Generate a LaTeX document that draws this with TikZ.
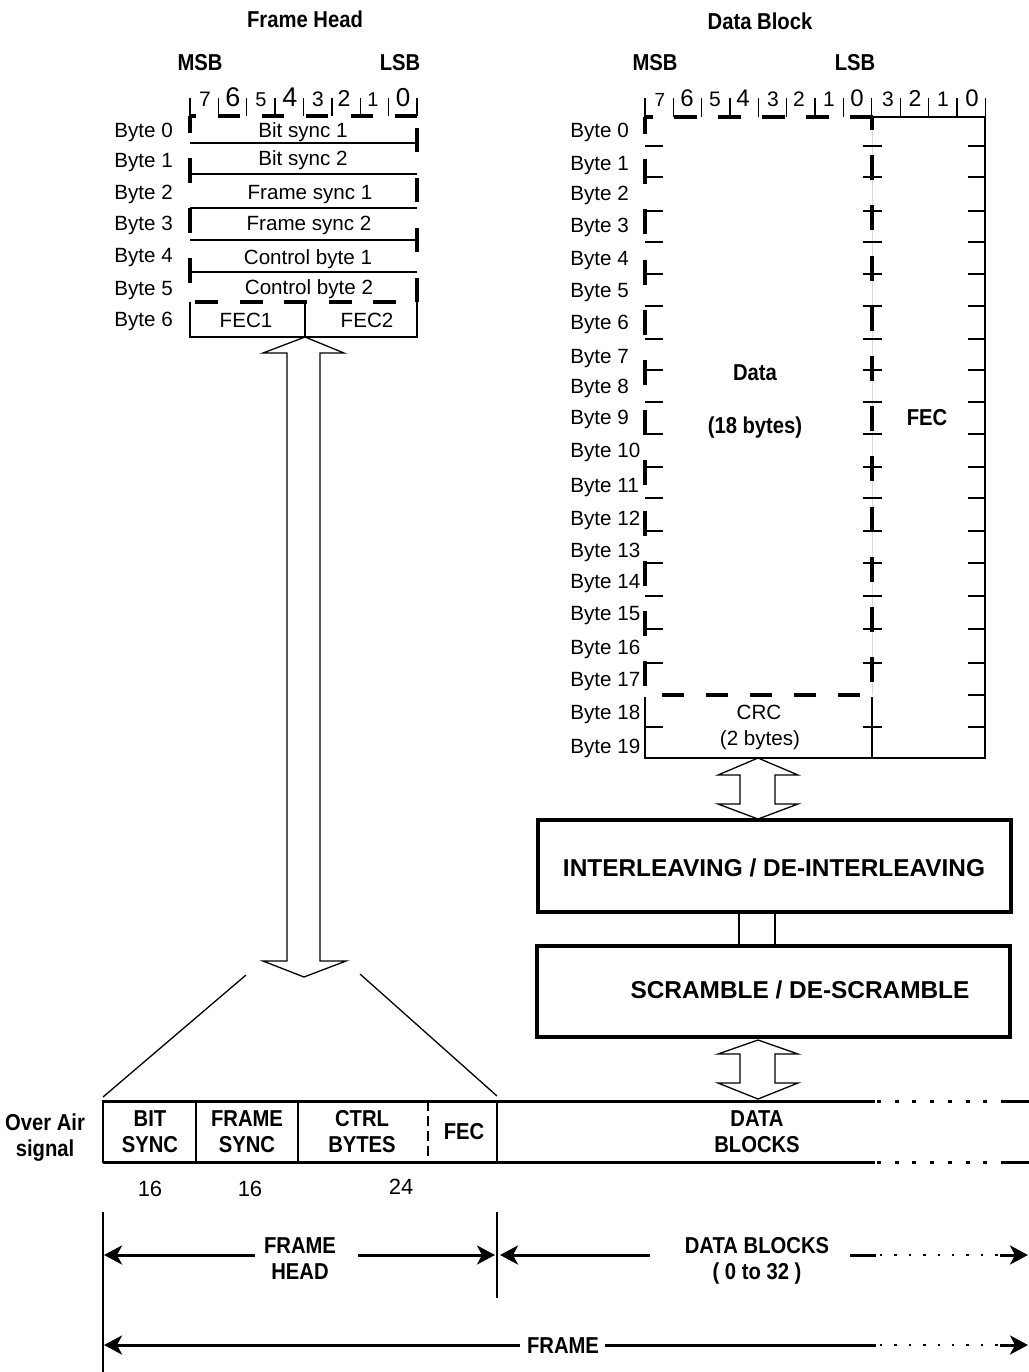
\documentclass[tikz,border=0pt]{standalone}
\usepackage{fontspec}
\setmainfont{Liberation Sans}
\newfontfamily\nbfont[FakeStretch=0.88]{Liberation Sans}
\usetikzlibrary{arrows.meta}
\tikzset{
  thinl/.style={line width=0.65pt},
  thickdash/.style={line width=2.4pt},
  lbl/.style={inner sep=0pt, anchor=base, font=\fontsize{10.3}{12}\selectfont},
  lblw/.style={lbl, anchor=base west},
  nbold/.style={inner sep=0pt, anchor=base, font=\nbfont\bfseries\fontsize{11.5}{13}\selectfont},
  boxlbl/.style={inner sep=0pt, anchor=base, font=\bfseries\fontsize{12.2}{14}\selectfont},
  procbox/.style={draw, line width=2pt, inner sep=0pt},
  hollow/.style={thinl, fill=white, line join=miter},
  sigline/.style={line width=1.5pt},
  dotline/.style={line width=1.5pt, dash pattern=on 2pt off 6.85pt},
  dimarrow/.style={line width=1.5pt, -{Stealth[length=9pt,width=9.5pt,inset=2.5pt]}},
  dimdots/.style={line width=1pt, dash pattern=on 1.2pt off 6pt},
}
\begin{document}
\begin{tikzpicture}[x=0.5pt,y=-0.5pt]
\useasboundingbox (0,0) rectangle (1029,1372);
\fill[white] (0,0) rectangle (1029,1372);

% ---------------- titles
\node[nbold] (fhtitle) at (305,27) {Frame Head};
\node[nbold] (dbtitle) at (760,29) {Data Block};
\node[nbold] (fhmsb) at (200,70) {MSB};
\node[nbold] (fhlsb) at (400,70) {LSB};
\node[nbold] (dbmsb) at (655,70) {MSB};
\node[nbold] (dblsb) at (855,70) {LSB};

% ---------------- FRAME HEAD
\foreach \x/\s/\d [count=\n] in {205/10.5/7,233/13.5/6,261/10/5,290/13.5/4,318/10.5/3,344/11.5/2,373/10/1,403/13/0}
  \node[inner sep=0pt, anchor=base, font=\fontsize{\s}{\s}\selectfont] (fhd\n) at (\x,106.5) {\d};
\foreach \k in {0,...,8}
  \draw[thinl] (190+28.375*\k,98) -- (190+28.375*\k,116);
\foreach \y in {143,174,208,240,272}
  \draw[thinl] (190,\y) -- (417,\y);
\draw[thinl] (190,302) -- (190,337) -- (417,337) -- (417,302);
\draw[thinl] (305,302) -- (305,337);
\draw[thickdash, dash pattern=on 11pt off 11.15pt] (417,116) -- (190,116);
\draw[thickdash, dash pattern=on 12.5pt off 12.5pt, dash phase=4pt] (190,116) -- (190,302);
\draw[thickdash, dash pattern=on 12.2pt off 12.8pt] (417,302) -- (417,116);
\draw[thickdash, dash pattern=on 11.5pt off 10.75pt] (195,302) -- (417,302);
\foreach \i/\y in {0/130,1/160,2/192,3/223,4/255,5/288,6/319}
  \node[lblw] (fhb\i) at (114,\y+7.4) {Byte \i};
\node[lbl] (bs1) at (303,137.4) {Bit sync 1};
\node[lbl] (bs2) at (303,165.4) {Bit sync 2};
\node[lbl] (fs1) at (310,199.4) {Frame sync 1};
\node[lbl] (fs2) at (309,230.4) {Frame sync 2};
\node[lbl] (cb1) at (308,264.4) {Control byte 1};
\node[lbl] (cb2) at (309,294.4) {Control byte 2};
\node[lbl] (fec1) at (246,327.4) {FEC1};
\node[lbl] (fec2) at (367,327.4) {FEC2};

\coordinate (fhtip) at (305,337);
\coordinate (fhbot) at (304,977);
\draw[hollow] (fhtip) -- (344,353) -- (320,353) -- (320,961) -- (346,961) -- (fhbot)
  -- (263,961) -- (287,961) -- (287,353) -- (263,353) -- cycle;
\coordinate (zl1) at (246,975); \coordinate (zl2) at (103,1097);
\coordinate (zr1) at (360,974); \coordinate (zr2) at (497,1096);
\draw[thinl] (zl1) -- (zl2);
\draw[thinl] (zr1) -- (zr2);

% ---------------- DATA BLOCK
\foreach \x/\s/\d [count=\n] in {660/9.5/7,687/12/6,715/10.5/5,743/12/4,773/10.5/3,799/10.5/2,829/10.5/1,857/12/0,888/10.5/3,915/11.5/2,943/10.5/1,972/12/0}
  \node[inner sep=0pt, anchor=base, font=\fontsize{\s}{\s}\selectfont] (dbd\n) at (\x,106.5) {\d};
\foreach \k in {0,...,12}
  \draw[thinl] (645+28.35*\k,98) -- (645+28.35*\k,117);
\draw[gray!30, line width=0.5pt] (872,117) -- (872,695);
\draw[thinl] (872,117) -- (985,117) -- (985,758) -- (645,758) -- (645,697);
\draw[thinl] (872,697) -- (872,758);
\foreach \y in {146,177,211,242,274,306,339,370,402,434,467,498,531,563,596,629,663,727}{
  \draw[thinl] (645,\y) -- (663,\y);
  \draw[thinl] (863,\y) -- (882,\y);
  \draw[thinl] (968,\y) -- (985,\y);
}
\draw[thinl] (968,695) -- (985,695);
\draw[thickdash, dash pattern=on 11.5pt off 10.5pt] (873,117) -- (645,117);
\draw[thickdash, dash pattern=on 12.5pt off 12.6pt, dash phase=4pt] (645,117) -- (645,690);
\draw[thickdash, dash pattern=on 12.5pt off 12.6pt, dash phase=6pt] (872,117) -- (872,690);
\draw[thickdash, dash pattern=on 11pt off 11pt] (662,695) -- (862,695);
\foreach \i/\y in {0/130,1/163,2/193,3/225,4/258,5/290,6/322,7/356,8/386,9/417,10/450,11/485,12/518,13/550,14/581,15/613,16/647,17/679,18/712,19/746}
  \node[lblw] (dbb\i) at (570,\y+7.4) {Byte \i};
\node[nbold] (data1) at (755,380.2) {Data};
\node[nbold] (data2) at (755,433.2) {(18 bytes)};
\node[nbold] (dbfec) at (927,425.2) {FEC};
\node[lbl] (crc1) at (759,719.4) {CRC};
\node[lbl] (crc2) at (760,745.4) {(2 bytes)};

% ---------------- processing chain
\coordinate (crctip) at (758,758);
\draw[hollow] (crctip) -- (798,775) -- (775,775) -- (775,804) -- (798,804) -- (758,819)
  -- (718,804) -- (740,804) -- (740,775) -- (718,775) -- cycle;
\node[procbox, minimum width=236.5pt, minimum height=46pt] (ilv) at (774.5,866) {};
\node[boxlbl] (ilvt) at (774,876.7) {INTERLEAVING / DE-INTERLEAVING};
\draw[thinl] (739,913) -- (739,945);
\draw[thinl] (775,913) -- (775,945);
\node[procbox, minimum width=236.5pt, minimum height=45.5pt] (scr) at (773.5,991.5) {};
\node[boxlbl] (scrt) at (800,998.7) {SCRAMBLE / DE-SCRAMBLE};
\coordinate (sctip) at (758,1040);
\draw[hollow] (sctip) -- (798,1054) -- (775,1054) -- (775,1083) -- (798,1083) -- (758,1099)
  -- (718,1083) -- (740,1083) -- (740,1054) -- (718,1054) -- cycle;

% ---------------- OVER AIR SIGNAL
\foreach \y in {1101,1162}{
  \draw[sigline] (103,\y) -- (875,\y);
  \draw[dotline] (877,\y) -- (990,\y);
  \draw[sigline] (1001,\y) -- (1029,\y);
}
\draw[line width=1.3pt] (103,1100.3) -- (103,1162.7);
\foreach \x in {196,298,497}
  \draw[line width=1pt] (\x,1101) -- (\x,1162);
\draw[thinl, dash pattern=on 5pt off 2.5pt] (428,1101) -- (428,1162);
\node[nbold] (oa1) at (45,1130.2) {Over Air};
\node[nbold] (oa2) at (45,1156.2) {signal};
\node[nbold] (bit1) at (150,1126.2) {BIT};
\node[nbold] (bit2) at (150,1152.2) {SYNC};
\node[nbold] (frs1) at (247,1126.2) {FRAME};
\node[nbold] (frs2) at (247,1152.2) {SYNC};
\node[nbold] (ctl1) at (362,1126.2) {CTRL};
\node[nbold] (ctl2) at (362,1152.2) {BYTES};
\node[nbold] (oafec) at (464,1139.2) {FEC};
\node[nbold] (dbk1) at (757,1126.2) {DATA};
\node[nbold] (dbk2) at (757,1152.2) {BLOCKS};
\node[inner sep=0pt, anchor=base, font=\fontsize{11}{13}\selectfont] (n16a) at (150,1196) {16};
\node[inner sep=0pt, anchor=base, font=\fontsize{11}{13}\selectfont] (n16b) at (250,1196) {16};
\node[inner sep=0pt, anchor=base, font=\fontsize{11}{13}\selectfont] (n24) at (401,1194) {24};

% ---------------- dimension arrows
\coordinate (vL) at (103,1212); \coordinate (vLb) at (103,1372);
\coordinate (vM) at (497,1212); \coordinate (vMb) at (497,1298);
\draw[thinl] (vL) -- (vLb);
\draw[thinl] (vM) -- (vMb);
\node[nbold] (fh1) at (300,1253.2) {FRAME};
\node[nbold] (fh2) at (300,1279.2) {HEAD};
\draw[dimarrow] (255,1255) -- (104,1255);
\draw[dimarrow] (358,1255) -- (495,1255);
\draw[dimarrow] (650,1255) -- (500,1255);
\node[nbold] (db1) at (757,1253.2) {DATA BLOCKS};
\node[nbold] (db2) at (757,1279.2) {( 0 to 32 )};
\draw[sigline] (850,1255) -- (876,1255);
\draw[dimdots] (880,1255) -- (998,1255);
\draw[dimarrow] (1000,1255) -- (1028,1255);
\draw[dimarrow] (520,1345) -- (104,1345);
\node[nbold] (frm) at (563,1353.2) {FRAME};
\draw[sigline] (605,1345) -- (876,1345);
\draw[dimdots] (880,1345) -- (998,1345);
\draw[dimarrow] (1000,1345) -- (1028,1345);
\end{tikzpicture}
\end{document}
